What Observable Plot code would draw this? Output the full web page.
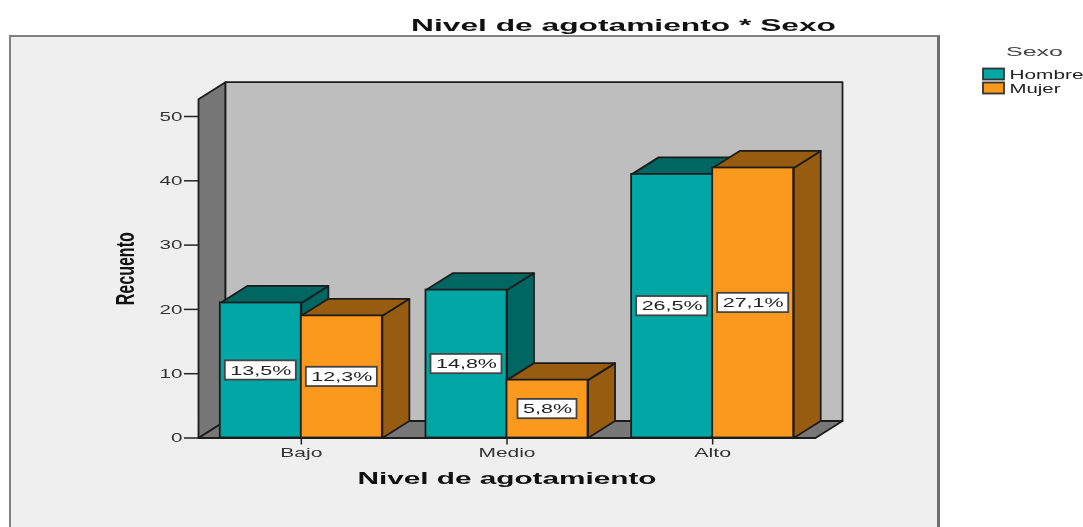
<!DOCTYPE html>
<html><head><meta charset="utf-8">
<script src="https://cdn.jsdelivr.net/npm/d3@7"></script>
<script src="https://cdn.jsdelivr.net/npm/@observablehq/plot@0.6"></script>
<style>
html,body{margin:0;padding:0;background:#fff;width:1083px;height:527px;overflow:hidden}
#panel{position:absolute;left:9px;top:35px;width:926px;height:492px;background:#efefef;border-top:2px solid #808080;border-left:2px solid #808080;border-right:3px solid #6e6e6e;filter:blur(.4px)}
#chart,#legend{position:absolute;top:0;left:0;filter:blur(.45px)}
#legend{left:975px;top:40px}
svg text{font-family:"Liberation Sans",Arial,sans-serif}
</style></head><body>
<div id="panel"></div><div id="chart"></div><div id="legend"></div>
<script>
const categories = ["Bajo", "Medio", "Alto"];
const sexes = ["Hombre", "Mujer"];
const hombre = [21, 23, 41];
const mujer = [19, 9, 42];
const hombrePct = ["13,5%", "14,8%", "26,5%"];
const mujerPct = ["12,3%", "5,8%", "27,1%"];
const front = ["#00a7a5", "#fb981e"];
const dark = ["#006662", "#975c10"];
const edge = "#1c1c1c";

const depthX = 0.1313, depthY = 2.644, barW = 0.394, wallTop = 52.7;

const poly = (pts, fill) => Plot.line([...pts, pts[0]].map(([x, y]) => ({x, y})),
  {x: "x", y: "y", fill, stroke: edge, strokeWidth: 1.8, strokeLinejoin: "round"});

const L = -0.5, R = 2.5;
const marks = [
  poly([[L,0],[L,wallTop],[L+depthX,wallTop+depthY],[L+depthX,depthY]], "#777"),
  poly([[L+depthX,depthY],[L+depthX,wallTop+depthY],[R+depthX,wallTop+depthY],[R+depthX,depthY]], "#bebebe"),
  poly([[L,0],[R,0],[R+depthX,depthY],[L+depthX,depthY]], "#777")
];
const boxes = [];
[hombre, mujer].forEach((vals, s) => {
  vals.forEach((v, i) => {
    const x1 = s === 0 ? i - barW : i, x2 = s === 0 ? i : i + barW;
    marks.push(
      poly([[x2,0],[x2,v],[x2+depthX,v+depthY],[x2+depthX,depthY]], dark[s]),
      poly([[x1,v],[x2,v],[x2+depthX,v+depthY],[x1+depthX,v+depthY]], dark[s]),
      Plot.rect([{x1,x2,y1:0,y2:v}], {x1:"x1",x2:"x2",y1:"y1",y2:"y2",fill:front[s],stroke:edge,strokeWidth:1.8})
    );
    boxes.push({x:(x1+x2)/2, y:v/2, label:(s===0?hombrePct:mujerPct)[i]});
  });
});
const halfW = d => (d.label.length === 4 ? 29.5 : 35.5) / 205.67;
marks.push(
  Plot.rect(boxes, {x1:d=>d.x-halfW(d), x2:d=>d.x+halfW(d), y1:d=>d.y-1.5, y2:d=>d.y+1.5, fill:"#fff", stroke:"#444", strokeWidth:1.8}),
  Plot.text(boxes, {x:"x", y:"y", text:"label", fontSize:13, fill:"#222"}),
  Plot.axisY({ticks:[0,10,20,30,40,50], tickSize:14, tickPadding:2, fontSize:13, label:null, color:"#333", stroke:"#222", strokeWidth:1.5}),
  Plot.axisX({ticks:[0,1,2], tickFormat:i=>categories[i], tickSize:7, tickPadding:3, fontSize:13, label:null, color:"#333", stroke:"#222", strokeWidth:1.5}),
  Plot.text(["Nivel de agotamiento"], {x:1, y:0, dy:41, fontSize:16, fontWeight:"bold", fill:"#111"}),
  Plot.text(["Recuento"], {frameAnchor:"left", dx:-73, dy:86, rotate:-90, fontSize:25, fontWeight:"bold", fill:"#111"}),
  Plot.text(["Nivel de agotamiento * Sexo"], {frameAnchor:"top", dx:116.5, dy:18, fontSize:17, fontWeight:"bold", fill:"#111"})
);

const chart = Plot.plot({
  width:1083, height:527, marginLeft:198, marginRight:268, marginTop:0, marginBottom:89.5,
  style:{background:"transparent", fontFamily:"Liberation Sans"},
  x:{domain:[L,R], range:[198,815]},
  y:{domain:[0,50], range:[437.5,116]},
  marks
});
document.getElementById("chart").append(chart);

const legend = Plot.plot({
  width:108, height:60, margin:0,
  style:{background:"transparent", fontFamily:"Liberation Sans"},
  x:{type:"band", domain:["s"], range:[8,29], padding:0, axis:null},
  y:{type:"band", domain:sexes, range:[26.5,55.5], padding:0, axis:null},
  color:{domain:sexes, range:front},
  marks:[
    Plot.cell(sexes, {x:()=>"s", y:d=>d, fill:d=>d, stroke:"#333", strokeWidth:1.8, insetTop:1.5, insetBottom:1.5}),
    Plot.text(sexes, {x:()=>"s", y:d=>d, text:d=>d, dx:15.5, textAnchor:"start", fontSize:13, fill:"#222"}),
    Plot.text(["Sexo"], {frameAnchor:"top", dx:5, dy:6, fontSize:13, fill:"#444"})
  ]
});
document.getElementById("legend").append(legend);

// The reference's text is stretched (or squeezed) horizontally: apply the same to real text.
const widths = {"Nivel de agotamiento * Sexo":425, "Nivel de agotamiento":299, "Recuento":73,
  "Bajo":42, "Medio":57, "Alto":37, "Sexo":57, "Hombre":74, "Mujer":51,
  "50":23, "40":23, "30":23, "20":23, "10":23, "0":11.5, "5,8%":49};
for (const svg of [chart, legend]) svg.querySelectorAll("text").forEach(t => {
  const s = t.textContent, w = widths[s] ?? (s.endsWith("%") ? 61 : null);
  if (w) { t.setAttribute("textLength", w); t.setAttribute("lengthAdjust", "spacingAndGlyphs"); }
});
</script></body></html>
